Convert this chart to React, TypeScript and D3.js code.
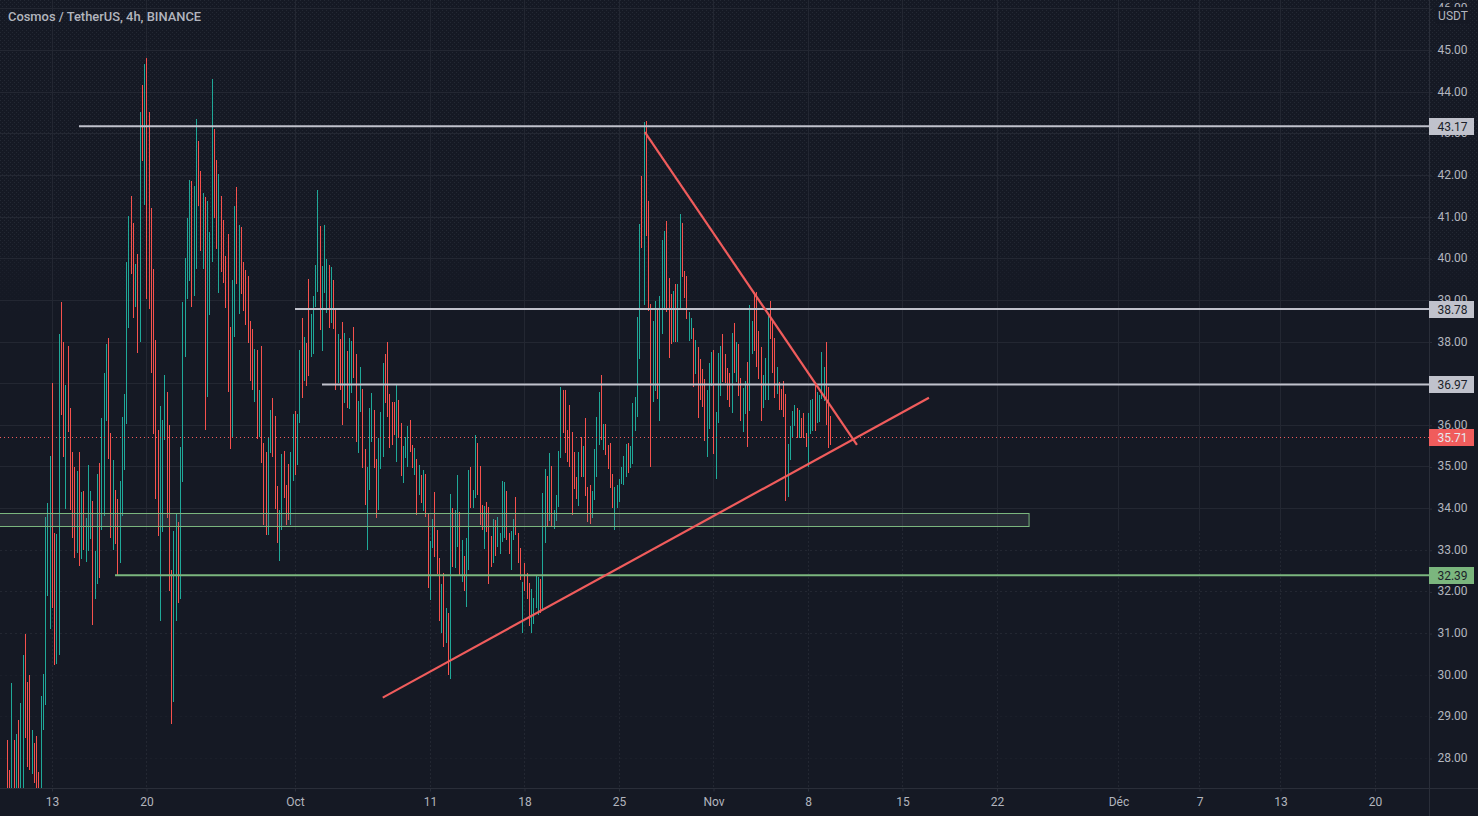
import React, { useEffect, useRef } from 'react';
import * as d3 from 'd3';

const HOUR = 3600 * 1000;
const firstBar = Date.UTC(2021, 8, 9, 16);

// 4h bars, low/high per bar
const highs = [
  28.44, 27.72, 29.81, 28.44, 28.58, 28.92, 29.33, 30.48, 30.98, 29.83, 30.0, 28.68, 28.37, 28.54, 27.67, 29.5, 30.02, 33.79, 34.13, 35.26, 37.01,
  33.41, 33.38, 38.18, 38.95, 37.99, 36.96, 37.9, 36.41, 35.35, 34.99, 34.9, 35.35, 34.39, 34.42, 33.77, 35.04, 34.42, 34.18, 32.98, 34.82,
  35.09, 36.17, 37.25, 37.94, 38.09, 35.81, 35.16, 34.44, 34.22, 34.66, 36.19, 36.74, 39.91, 41.02, 41.5, 40.85, 39.86, 40.1, 43.51, 44.16,
  44.66, 44.81, 43.51, 41.21, 39.74, 38.04, 35.88, 36.46, 36.12, 37.2, 36.79, 36.0, 32.52, 33.46, 33.89, 33.67, 35.47, 38.95, 40.01, 40.97,
  41.88, 41.86, 41.74, 43.34, 42.82, 42.1, 41.57, 41.47, 41.38, 40.63, 44.3, 43.1, 42.36, 42.02, 41.5, 40.92, 40.06, 40.58, 38.35, 39.48,
  41.26, 41.71, 40.8, 40.75, 39.91, 39.72, 39.58, 38.5, 38.3, 37.82, 37.8, 36.84, 37.9, 35.57, 35.35, 35.69, 36.36, 36.65, 36.22, 34.54,
  33.96, 35.3, 35.38, 34.56, 35.06, 35.35, 36.26, 36.34, 36.26, 37.8, 38.57, 38.11, 37.97, 39.5, 38.66, 39.1, 39.84, 41.64, 40.78, 39.82,
  40.8, 39.98, 39.84, 39.79, 39.48, 38.78, 38.18,
  38.06, 38.47, 38.21, 37.78, 38.09, 38.02, 38.35, 37.7, 36.58, 37.39, 36.86, 35.42, 34.99, 36.41, 36.77, 36.36, 35.18, 35.69, 36.31, 37.49,
  37.7, 37.99, 36.74, 36.55, 36.55, 36.96, 36.6, 36.05, 35.5, 35.71, 35.98, 36.12, 35.52, 35.45, 35.18, 35.04, 34.8, 34.92, 34.82, 33.89,
  33.22, 33.74, 34.39, 33.48, 32.81, 32.18, 32.45, 31.61, 31.49, 34.34, 34.01, 33.96, 34.8, 33.91, 33.24, 32.86, 33.29, 34.92, 34.99, 34.44,
  35.76, 35.57, 35.02, 34.08, 34.06, 34.15, 34.03, 33.34, 33.74, 33.72, 33.79, 33.41, 34.66, 34.63, 34.42, 33.41, 33.46, 33.74, 34.27, 33.41,
  33.05, 32.23, 32.69, 32.45, 32.21, 32.06, 31.85, 32.38, 32.35, 32.3, 34.37, 34.94, 34.78, 35.33, 35.02, 33.96, 34.32, 35.38, 36.91, 36.84,
  36.84, 35.88, 36.48, 35.83, 35.35, 34.75, 35.35, 35.71, 35.5, 36.17, 34.51, 34.56, 34.42, 35.42, 36.19, 36.79, 37.2, 36.02, 36.02, 35.52,
  35.57, 34.82, 34.51, 34.56, 34.7, 34.99, 35.26, 35.54, 35.57, 35.5, 36.53, 36.67, 38.59,
  40.82, 41.98, 43.27, 43.3, 41.38, 38.9, 38.5, 38.98, 38.78, 39.1, 40.44, 40.66, 40.9, 39.53, 39.14, 39.22, 39.38, 39.38, 41.06, 40.85,
  39.7, 39.58, 38.71, 38.57, 38.33, 38.04, 37.87, 37.58, 37.34, 37.1, 36.84, 37.49, 37.75, 37.8, 36.31, 37.73, 37.9, 38.18, 37.7, 37.37,
  37.25, 38.21, 38.45, 37.99, 37.94, 37.13, 36.89, 37.06, 37.51, 38.88, 38.5, 39.19, 39.19, 38.26, 37.87, 37.2, 37.61, 38.66, 38.98, 38.54,
  38.09, 37.39, 37.03, 36.86, 37.06, 36.74, 35.54, 35.98, 36.34, 36.48, 36.41, 36.36, 36.17, 36.29, 35.81, 36.29, 36.6, 36.62, 36.98, 36.79,
  36.72, 37.75, 37.39, 37.99, 36.91, 36.22,
];

const lows = [
  27.2, 27.2, 27.2, 27.2, 27.2, 27.2, 27.2, 27.2, 28.49, 27.79, 27.72, 27.62, 27.41, 27.2, 27.2, 27.2, 28.68, 29.28, 31.9, 31.1, 31.61,
  30.24, 30.26, 30.48, 36.24, 35.23, 33.98, 35.83, 33.96, 33.29, 32.81, 32.93, 32.62, 32.78, 33.0, 32.71, 32.98, 33.26, 31.2, 31.82, 32.18,
  32.33, 33.48, 33.82, 36.09, 35.18, 33.29, 33.0, 33.14, 32.4, 32.69, 33.82, 34.92, 36.03, 38.33, 39.62, 38.57, 38.83, 37.73, 37.99, 42.34,
  41.28, 39.02, 38.78, 37.25, 35.78, 34.22, 33.34, 31.3, 33.43, 35.64, 33.77, 32.02, 28.82, 29.35, 31.3, 31.73, 31.82, 34.63, 37.63, 39.02,
  39.46, 38.83, 39.1, 39.74, 41.26, 40.18, 39.74, 35.88, 36.67, 38.64, 39.91, 40.97, 40.22, 39.17, 39.67, 39.41, 38.81, 36.79, 35.42, 35.71,
  38.11, 39.38, 38.66, 39.14, 38.74, 38.4, 37.97, 37.06, 36.84, 36.55, 35.66, 35.71, 35.09, 33.6, 33.36, 33.36, 35.33, 35.23, 33.98, 33.17,
  32.74, 33.48, 34.25, 33.6, 33.72, 33.6, 34.66, 34.8, 35.04, 36.05, 36.65, 37.06, 36.94, 37.18, 37.63, 37.7, 38.83, 39.19, 38.28, 37.78,
  39.17, 38.69, 38.33, 38.45, 38.3, 36.84, 37.01,
  36.84, 36.0, 36.53, 36.41, 36.38, 36.77, 37.13, 35.59, 35.33, 36.31, 34.97, 34.08, 33.0, 34.44, 35.59, 34.97, 33.77, 33.96, 34.94, 35.23,
  36.53, 36.19, 35.45, 35.52, 35.76, 35.11, 35.69, 34.78, 34.61, 35.21, 34.99, 35.35, 34.97, 34.8, 33.84, 34.32, 34.13, 33.94, 33.79, 32.09,
  31.8, 33.05, 32.83, 32.42, 31.3, 31.01, 30.67, 30.77, 30.0, 29.9, 32.59, 32.57, 33.07, 32.4, 32.23, 32.0, 31.63, 32.52, 34.01, 34.01,
  34.25, 34.32, 33.6, 33.48, 33.02, 33.43, 32.18, 32.59, 32.69, 32.86, 33.07, 32.9, 33.19, 33.29, 33.24, 32.9, 32.52, 33.24, 33.36, 32.69,
  32.28, 31.01, 32.02, 31.82, 31.18, 31.01, 31.22, 31.61, 31.44, 31.49, 31.58, 33.17, 33.55, 33.7, 33.55, 33.5, 33.7, 34.03, 35.21, 35.81,
  35.33, 35.11, 34.99, 33.84, 34.46, 34.22, 34.06, 34.75, 34.75, 34.3, 33.67, 33.62, 33.77, 34.2, 34.75, 35.52, 35.64, 35.4, 35.28, 34.94,
  34.49, 34.01, 33.48, 34.01, 34.15, 34.58, 34.56, 34.75, 34.85, 34.97, 35.06, 35.86, 36.19,
  37.58, 40.25, 38.88, 40.54, 38.74, 34.99, 36.55, 36.82, 36.62, 36.1, 38.18, 38.78, 38.71, 37.61, 37.94, 37.99, 37.99, 37.99, 38.78, 39.55,
  39.05, 38.54, 38.02, 38.06, 36.91, 37.22, 36.17, 36.6, 36.43, 35.62, 35.23, 35.9, 36.94, 35.3, 34.7, 36.05, 36.7, 37.03, 37.01, 36.6,
  36.43, 36.29, 37.25, 37.03, 36.7, 36.1, 35.83, 36.26, 35.47, 36.34, 37.7, 37.78, 37.39, 37.1, 36.1, 36.41, 36.6, 36.6, 38.06, 37.25,
  36.65, 36.74, 36.36, 36.36, 36.19, 34.18, 34.27, 35.16, 35.71, 35.98, 35.69, 35.69, 35.69, 35.69, 35.47, 34.99, 35.78, 35.86, 35.86, 36.05,
  36.07, 36.62, 36.58, 36.0, 35.45, 35.52,
];

// u = closed up (teal), d = closed down (red)
const directions = `
  dd ududuu ddd u ddd uuuuu d
  d uu dd u dddd u d u d uuu d uu
  d uuu dd u dd uuuuu dd u d u d
  u dddddd uuu ddd uu d uuuu
  u d uu dd u d uuu dd u ddddd u
  u d u dddddd u d u ddd uu ddd
  uu ddd uu d uu d u dd uuuu d uuu d u dd u
  ddudu uddu u
  dduuu dduuu
  ddddd uddu u
  uddud ududd
  uuddd ududu
  duudu duudu
  uddd ud ddud
  uuuud duudd
  dudddu uuud
  uudud uuuud
  ddddd dudud
  dduuu ududd
  dduuu uuudu
  uuu
  ududd duudu
  uuddd uduud
  dduud udddd
  uuudu uuddd
  dudud duudu
  udddd uuudd
  dudddd uuuu
  duddd uuudu
  uuuddd
`;

const priceTicks = d3.range(28, 47);
const dayTicks = [
  [2021, 8, 13], [2021, 8, 20], [2021, 9, 1], [2021, 9, 11], [2021, 9, 18], [2021, 9, 25], [2021, 10, 1],
  [2021, 10, 8], [2021, 10, 15], [2021, 10, 22], [2021, 11, 1], [2021, 11, 7], [2021, 11, 13], [2021, 11, 20],
].map(([y, m, d]) => Date.UTC(y, m, d));
const dayLabels = ['13', '20', 'Oct', '11', '18', '25', 'Nov', '8', '15', '22', 'Déc', '7', '13', '20'];

const whiteLevels = [
  { price: 43.17, from: Date.UTC(2021, 8, 15) },
  { price: 38.78, from: Date.UTC(2021, 9, 1) },
  { price: 36.97, from: Date.UTC(2021, 9, 3) },
];
const greenLevel = { price: 32.39, from: Date.UTC(2021, 8, 17, 16) };
const zone = { top: 33.89, bottom: 33.57, to: Date.UTC(2021, 10, 24, 9) };
const lastPrice = 35.71;
const trendLines = [
  [[Date.UTC(2021, 9, 26, 22), 43.03], [Date.UTC(2021, 10, 11, 15), 35.52]],
  [[Date.UTC(2021, 9, 7, 12), 29.45], [Date.UTC(2021, 10, 16, 23), 36.65]],
];

const BG = '#151924';
const GRID = '#232732';
const AXIS = '#2a2e39';
const TEAL = '#1fa898';
const RED = '#f6514d';
const WHITE = '#c0c2cc';
const GREEN = '#7bb67e';
const LINE_RED = '#f05c5c';
const TEXT = '#b2b5be';
const FONT = 'Roboto, sans-serif';

const width = 1478;
const height = 816;
const plotRight = 1429;
const plotBottom = 788;

export default function App() {
  const svgRef = useRef<SVGSVGElement>(null);

  useEffect(() => {
    if (!svgRef.current) return;
    const svg = d3.select(svgRef.current);
    svg.selectAll('*').remove();

    const x = d3.scaleUtc().domain([dayTicks[0], dayTicks[dayTicks.length - 1]]).range([52, 1375]);
    const y = d3.scaleLinear().domain([45, 28]).range([50, 758]);
    const px = (v: number) => Math.ceil(x(v) - 0.5) + 0.5;
    const py = (v: number) => Math.round(y(v)) + 0.5;

    const defs = svg.append('defs');
    defs.append('clipPath').attr('id', 'plot').append('rect')
      .attr('width', plotRight).attr('height', plotBottom);

    // the dotted texture of the top part of the picture
    const pattern = defs.append('pattern').attr('id', 'dither')
      .attr('width', 4).attr('height', 4).attr('patternUnits', 'userSpaceOnUse');
    pattern.append('rect').attr('width', 1).attr('height', 1).attr('fill', '#232833');
    pattern.append('rect').attr('x', 2).attr('y', 2).attr('width', 1).attr('height', 1).attr('fill', '#232833');
    const fade = defs.append('linearGradient').attr('id', 'fade')
      .attr('x1', 0).attr('y1', 0).attr('x2', 0).attr('y2', 1);
    fade.append('stop').attr('offset', '0%').attr('stop-color', '#fff');
    fade.append('stop').attr('offset', '75%').attr('stop-color', '#fff');
    fade.append('stop').attr('offset', '100%').attr('stop-color', '#000');
    defs.append('mask').attr('id', 'fadeMask').attr('maskContentUnits', 'objectBoundingBox')
      .append('rect').attr('width', 1).attr('height', 1).attr('fill', 'url(#fade)');

    svg.append('rect').attr('width', width).attr('height', height).attr('fill', BG);
    svg.append('rect').attr('width', width).attr('height', y(38.6))
      .attr('fill', 'url(#dither)').attr('mask', 'url(#fadeMask)');

    // Grid: solid up top, broken up further down like the picture
    const grid = svg.append('g').attr('clip-path', 'url(#plot)').attr('shape-rendering', 'crispEdges');
    grid.selectAll('.h-grid').data(priceTicks).enter().append('line')
      .attr('x1', 0).attr('x2', plotRight)
      .attr('y1', d => py(d)).attr('y2', d => py(d))
      .attr('stroke', GRID)
      .attr('stroke-opacity', d => (d < 31 ? 0.45 : 1))
      .attr('stroke-dasharray', d => (d < 34 ? '2,3' : null));
    grid.selectAll('.v-grid').data(dayTicks).enter().append('line')
      .attr('x1', d => px(d)).attr('x2', d => px(d))
      .attr('y1', 0).attr('y2', y(33.5))
      .attr('stroke', GRID);
    grid.selectAll('.v-grid-low').data(dayTicks).enter().append('line')
      .attr('x1', d => px(d)).attr('x2', d => px(d))
      .attr('y1', y(33.5)).attr('y2', plotBottom)
      .attr('stroke', GRID)
      .attr('stroke-dasharray', '2,2');

    // Bars
    const dirs = directions.replace(/\s/g, '');
    const bars = highs.map((high, i) => ({
      time: firstBar + i * 4 * HOUR,
      high,
      low: lows[i],
      up: dirs[i] === 'u',
    }));
    svg.append('g').attr('clip-path', 'url(#plot)').attr('shape-rendering', 'crispEdges')
      .selectAll('line').data(bars).enter().append('line')
      .attr('x1', d => px(d.time)).attr('x2', d => px(d.time))
      .attr('y1', d => y(d.high)).attr('y2', d => y(d.low))
      .attr('stroke', d => (d.up ? TEAL : RED));

    const overlay = svg.append('g').attr('clip-path', 'url(#plot)');

    // Last price
    overlay.append('line')
      .attr('x1', 0).attr('x2', plotRight)
      .attr('y1', py(lastPrice)).attr('y2', py(lastPrice))
      .attr('stroke', LINE_RED).attr('stroke-dasharray', '1,3');

    // Zone
    overlay.append('rect')
      .attr('x', -2).attr('y', py(zone.top))
      .attr('width', x(zone.to) + 2).attr('height', py(zone.bottom) - py(zone.top))
      .attr('fill', '#787b86').attr('fill-opacity', 0.2)
      .attr('stroke', GREEN).attr('stroke-width', 1);

    // Horizontal levels
    overlay.selectAll('.level').data(whiteLevels).enter().append('line')
      .attr('x1', d => x(d.from)).attr('x2', plotRight)
      .attr('y1', d => y(d.price)).attr('y2', d => y(d.price))
      .attr('stroke', WHITE).attr('stroke-width', 2);
    overlay.append('line')
      .attr('x1', x(greenLevel.from)).attr('x2', plotRight)
      .attr('y1', y(greenLevel.price)).attr('y2', y(greenLevel.price))
      .attr('stroke', GREEN).attr('stroke-width', 2);

    // Trend lines
    const line = d3.line<number[]>().x(d => x(d[0])).y(d => y(d[1]));
    overlay.selectAll('.trend').data(trendLines).enter().append('path')
      .attr('d', d => line(d))
      .attr('fill', 'none').attr('stroke', LINE_RED).attr('stroke-width', 2.2);

    // Axes
    const yAxis = svg.append('g').attr('transform', `translate(${plotRight},0.5)`)
      .call(d3.axisRight(y).tickValues(priceTicks).tickFormat(d3.format('.2f') as any).tickSize(3));
    const xAxis = svg.append('g').attr('transform', `translate(0,${plotBottom}.5)`)
      .call(d3.axisBottom(x).tickValues(dayTicks as any).tickFormat((_, i) => dayLabels[i]).tickSize(3));
    [yAxis, xAxis].forEach(axis => {
      axis.attr('font-family', FONT).attr('font-size', 12);
      axis.selectAll('.domain').remove();
      axis.selectAll('line').attr('stroke', AXIS);
      axis.selectAll('text').attr('fill', TEXT);
    });
    yAxis.selectAll('text').attr('x', 23.5).attr('text-anchor', 'middle').attr('dy', '0.25em');
    xAxis.selectAll('text').attr('y', 8.5);

    svg.append('line').attr('x1', plotRight + 0.5).attr('x2', plotRight + 0.5)
      .attr('y1', 0).attr('y2', height).attr('stroke', AXIS);
    svg.append('line').attr('x1', 0).attr('x2', width)
      .attr('y1', plotBottom + 0.5).attr('y2', plotBottom + 0.5).attr('stroke', AXIS);

    // Price tags
    const tags = [
      ...whiteLevels.map(d => ({ price: d.price, bg: WHITE, fg: '#1b1f2a' })),
      { price: lastPrice, bg: LINE_RED, fg: '#e6e8ee' },
      { price: greenLevel.price, bg: GREEN, fg: '#1b1f2a' },
    ];
    const tag = svg.append('g').selectAll('g').data(tags).enter().append('g')
      .attr('transform', d => `translate(${plotRight},${py(d.price)})`);
    tag.append('rect').attr('y', -8.5).attr('width', 45).attr('height', 17).attr('fill', d => d.bg);
    tag.append('text')
      .attr('x', 23.5).attr('dy', '0.34em').attr('text-anchor', 'middle')
      .attr('font-family', FONT).attr('font-size', 12)
      .attr('fill', d => d.fg)
      .text(d => d3.format('.2f')(d.price));

    // USDT badge and title
    svg.append('rect').attr('x', 1436).attr('y', 7).attr('width', 34).attr('height', 17).attr('rx', 3).attr('fill', BG);
    svg.append('text').attr('x', 1453).attr('y', 20).attr('text-anchor', 'middle')
      .attr('font-family', FONT).attr('font-size', 12).attr('fill', TEXT).text('USDT');
    svg.append('text').attr('x', 8).attr('y', 21)
      .attr('font-family', FONT).attr('font-size', 12.9).attr('font-weight', 500).attr('fill', TEXT)
      .text('Cosmos / TetherUS, 4h, BINANCE');
  }, []);

  return (
    <svg
      ref={svgRef}
      width={width}
      height={height}
      style={{ position: 'absolute', left: 0, top: 0 }}
    />
  );
}
